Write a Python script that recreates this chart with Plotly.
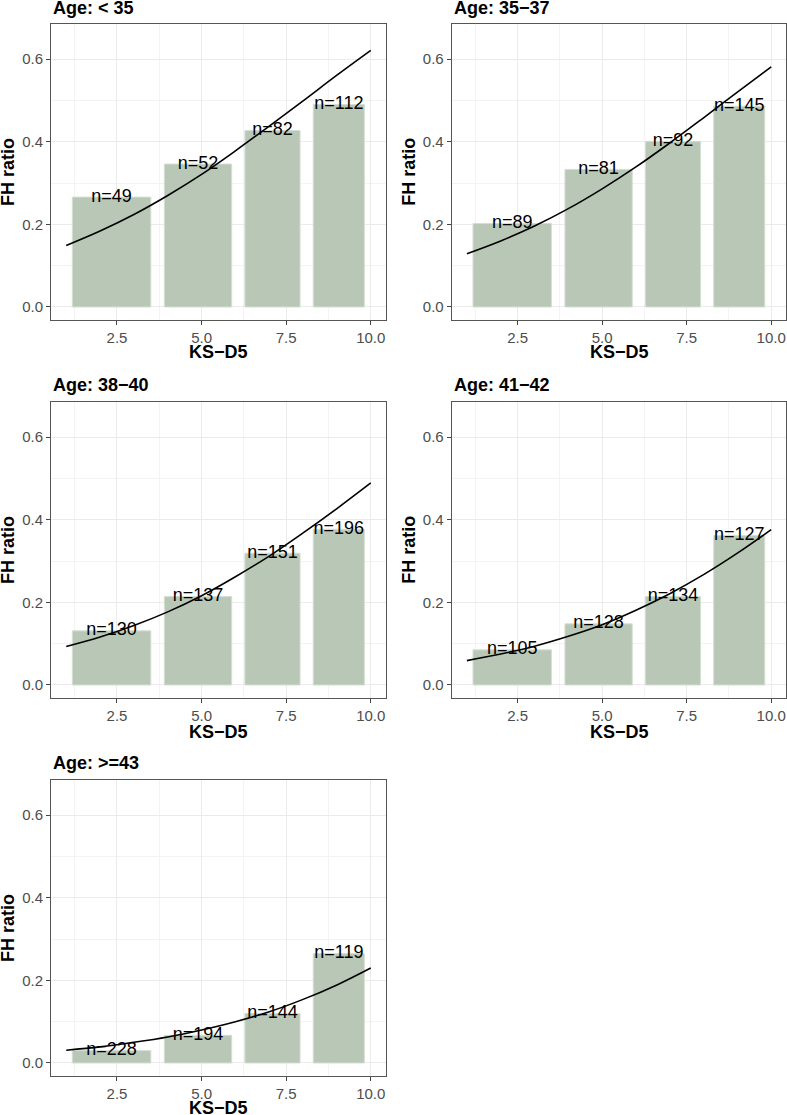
import plotly.graph_objects as go

# ---------------- data ----------------
panel_titles = ["Age: < 35", "Age: 35\u221237", "Age: 38\u221240", "Age: 41\u221242", "Age: >=43"]

# KS-D5 bins (bar centres and widths, in KS-D5 units)
bin_centers = [2.34, 4.895, 7.095, 9.055]
bin_widths = [2.32, 1.99, 1.63, 1.51]

# observed FH ratio per bin, per age group
fh_lt35 = [0.266, 0.346, 0.427, 0.490]
fh_35_37 = [0.202, 0.333, 0.401, 0.486]
fh_38_40 = [0.131, 0.214, 0.319, 0.377]
fh_41_42 = [0.085, 0.148, 0.214, 0.362]
fh_ge43 = [0.030, 0.067, 0.120, 0.265]

# counts per bin
n_lt35 = [49, 52, 82, 112]
n_35_37 = [89, 81, 92, 145]
n_38_40 = [130, 137, 151, 196]
n_41_42 = [105, 128, 134, 127]
n_ge43 = [228, 194, 144, 119]

# fitted curves at KS-D5 = 1..10
curve_x = [1, 2, 3, 4, 5, 6, 7, 8, 9, 10]
curve_lt35 = [0.149, 0.184, 0.224, 0.270, 0.321, 0.378, 0.438, 0.499, 0.561, 0.621]
curve_35_37 = [0.129, 0.160, 0.196, 0.238, 0.286, 0.339, 0.397, 0.458, 0.520, 0.581]
curve_38_40 = [0.093, 0.116, 0.144, 0.177, 0.216, 0.262, 0.312, 0.368, 0.427, 0.489]
curve_41_42 = [0.059, 0.075, 0.094, 0.118, 0.146, 0.181, 0.221, 0.267, 0.319, 0.376]
curve_ge43 = [0.031, 0.039, 0.050, 0.063, 0.080, 0.100, 0.124, 0.154, 0.189, 0.230]

x_ticks = [2.5, 5.0, 7.5, 10.0]
y_ticks = [0.0, 0.2, 0.4, 0.6]

fh_all = [fh_lt35, fh_35_37, fh_38_40, fh_41_42, fh_ge43]
n_all = [n_lt35, n_35_37, n_38_40, n_41_42, n_ge43]
curve_all = [curve_lt35, curve_35_37, curve_38_40, curve_41_42, curve_ge43]

# ---------------- layout ----------------
W, H = 787, 1115
# plot boxes in pixels: (left, right, top, bottom)
boxes = [
    (51, 386, 24, 320),
    (451.7, 786.4, 24, 320),
    (51, 386, 402, 698),
    (451.7, 786.4, 402, 698),
    (51, 386, 780, 1076),
]
title_y = [7.5, 7.5, 385, 385, 763]
xtitle_y = [352, 352, 732, 732, 1108]

FONT = "Liberation Sans, Arial, Helvetica, sans-serif"
BAR_COLOR = "#b8c7b6"
BAR_EDGE = "#d3dfd1"

fig = go.Figure()
annotations = []

for i in range(5):
    ax = "" if i == 0 else str(i + 1)
    xref, yref = "x" + ax, "y" + ax
    l, r, t, b = boxes[i]

    fig.add_trace(go.Bar(
        x=bin_centers, y=fh_all[i], width=bin_widths,
        marker=dict(color=BAR_COLOR, line=dict(color=BAR_EDGE, width=1)),
        xaxis=xref, yaxis=yref, showlegend=False, hoverinfo="skip",
    ))
    fig.add_trace(go.Scatter(
        x=curve_x, y=curve_all[i], mode="lines",
        line=dict(color="black", width=1.6, shape="spline"),
        xaxis=xref, yaxis=yref, showlegend=False, hoverinfo="skip",
    ))
    fig.add_trace(go.Scatter(
        x=bin_centers, y=fh_all[i], mode="text",
        text=["n=%d" % v for v in n_all[i]], textposition="middle center",
        textfont=dict(family=FONT, size=18, color="black"),
        xaxis=xref, yaxis=yref, showlegend=False, hoverinfo="skip",
        cliponaxis=False,
    ))

    axis_common = dict(
        showline=True, mirror=True, linecolor="#555555", linewidth=1,
        ticks="outside", ticklen=4, tickcolor="#444444", tickwidth=1,
        tickfont=dict(family=FONT, size=15, color="#4d4d4d"),
        showgrid=True, gridcolor="#ebebeb", gridwidth=1,
        zeroline=False, tickformat=".1f",
    )
    fig.layout["xaxis" + ax] = dict(
        axis_common,
        domain=[l / W, r / W], anchor=yref, range=[0.55, 10.45],
        tickvals=x_ticks,
        minor=dict(tickvals=[1.25, 3.75, 6.25, 8.75], showgrid=True,
                   gridcolor="#f3f3f3", gridwidth=1, ticks=""),
    )
    fig.layout["yaxis" + ax] = dict(
        axis_common,
        domain=[1 - b / H, 1 - t / H], anchor=xref, range=[-0.0315, 0.685],
        tickvals=y_ticks,
        minor=dict(tickvals=[0.1, 0.3, 0.5], showgrid=True,
                   gridcolor="#f3f3f3", gridwidth=1, ticks=""),
    )

    # panel title
    annotations.append(dict(
        text="<b>%s</b>" % panel_titles[i], x=l / W, y=1 - title_y[i] / H,
        xref="paper", yref="paper", xanchor="left", yanchor="middle",
        showarrow=False, font=dict(family=FONT, size=18, color="black"),
    ))
    # x axis title
    annotations.append(dict(
        text="<b>KS\u2212D5</b>", x=(l + r) / 2 / W, y=1 - xtitle_y[i] / H,
        xref="paper", yref="paper", xanchor="center", yanchor="middle",
        showarrow=False, font=dict(family=FONT, size=18, color="black"),
    ))
    # y axis title
    annotations.append(dict(
        text="<b>FH ratio</b>", x=(l - 43) / W, y=1 - (t + b) / 2 / H,
        xref="paper", yref="paper", xanchor="center", yanchor="middle",
        textangle=-90, showarrow=False,
        font=dict(family=FONT, size=18, color="black"),
    ))

fig.update_layout(
    width=W, height=H, margin=dict(l=0, r=0, t=0, b=0),
    paper_bgcolor="white", plot_bgcolor="white",
    annotations=annotations, barmode="overlay", showlegend=False,
)

fig.write_html(
    "out.html",
    config={"displayModeBar": False},
    post_script="document.body.style.margin='0';document.body.style.padding='0';",
)
